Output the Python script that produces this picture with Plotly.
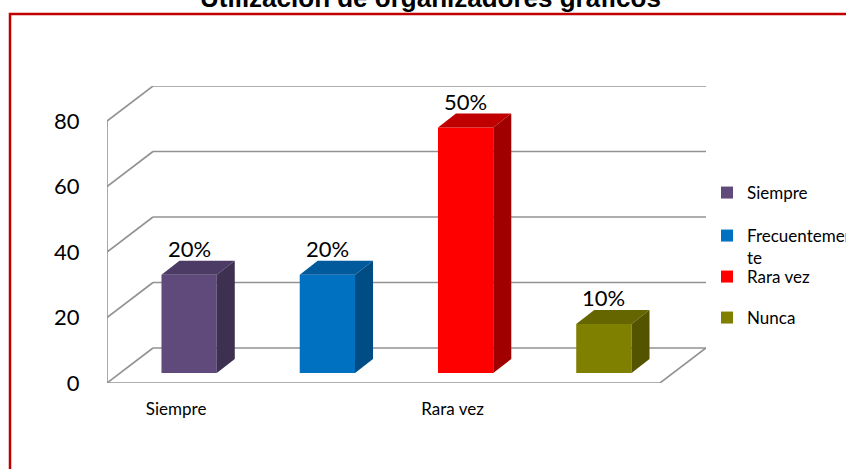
import plotly.graph_objects as go

# ---------------- data ----------------
categories = ["Siempre", "Frecuentemente", "Rara vez", "Nunca"]
values = [30, 30, 75, 15]
value_labels = ["20%", "20%", "50%", "10%"]
y_ticks = [0, 20, 40, 60, 80]
x_tick_labels = ["Siempre", "Rara vez"]
title_text = "Utilización de organizadores gráficos"

front_colors = ["#604A7B", "#0070C0", "#FF0000", "#808000"]
top_colors = ["#4C3B64", "#005A9C", "#C00000", "#666600"]
side_colors = ["#3E3051", "#004C84", "#A00000", "#545400"]

# ---------------- geometry (pixels) ----------------
W, H = 846, 469
ML, MT = 107, 86
MR = W - 706
MB = H - 383
PW, PH = W - ML - MR, H - MT - MB
FRONT_W = 553                      # width of the front plane in px
PX_CAT = FRONT_W / len(categories)
PX_Y = 262 / 80                     # px per value unit
XMIN = -0.5
XMAX = XMIN + PW / PX_CAT
YMAX = PH / PX_Y
DX, DY = 46 / PX_CAT, 35 / PX_Y     # depth of the 3D box
SHX, SHY = 13, 10                   # bar plane shift (px)
BAR_W = 0.4
BDX, BDY = 18 / PX_CAT, 14 / PX_Y   # bar depth
XR = XMIN + len(categories)         # right edge of front plane
GRID = "#929292"
GW = 1.6


def px2paper_x(px):
    return (px - ML) / PW


def px2paper_y(py):
    return (H - MB - py) / PH


fig = go.Figure()

legend_ids = ["legend", "legend2", "legend3", "legend4"]
for i, (cat, v) in enumerate(zip(categories, values)):
    name = cat if len(cat) <= 12 else cat[:12] + "<br>" + cat[12:]
    fig.add_trace(go.Bar(
        x=[i], y=[v], width=BAR_W, name=name,
        marker=dict(color=front_colors[i], line=dict(width=0)),
        xaxis="x2", yaxis="y2", legend=legend_ids[i],
        hoverinfo="skip",
    ))

shapes = []
for t in y_ticks:
    # side wall diagonal
    shapes.append(dict(type="line", xref="x", yref="y", x0=XMIN, y0=t, x1=XMIN + DX, y1=t + DY,
                       line=dict(color=GRID, width=GW), layer="below"))
    # back wall horizontal
    shapes.append(dict(type="line", xref="x", yref="y", x0=XMIN + DX, y0=t + DY, x1=XR + DX, y1=t + DY,
                       line=dict(color=GRID, width=GW), layer="below"))
# floor front and right edges
shapes.append(dict(type="line", xref="x", yref="y", x0=XMIN, y0=0, x1=XR, y1=0,
                   line=dict(color=GRID, width=GW), layer="below"))
shapes.append(dict(type="line", xref="x", yref="y", x0=XR, y0=0, x1=XR + DX, y1=DY,
                   line=dict(color=GRID, width=GW), layer="below"))
# left vertical axis line
shapes.append(dict(type="line", xref="x", yref="y", x0=XMIN, y0=0, x1=XMIN, y1=max(y_ticks),
                   line=dict(color=GRID, width=GW), layer="below"))

# 3D bar tops and sides
for i, v in enumerate(values):
    xl, xr = i - BAR_W / 2, i + BAR_W / 2
    top = f"M{xl},{v} L{xr},{v} L{xr + BDX},{v + BDY} L{xl + BDX},{v + BDY} Z"
    side = f"M{xr},0 L{xr + BDX},{BDY} L{xr + BDX},{v + BDY} L{xr},{v} Z"
    shapes.append(dict(type="path", xref="x2", yref="y2", path=top,
                       fillcolor=top_colors[i], line=dict(width=0), layer="above"))
    shapes.append(dict(type="path", xref="x2", yref="y2", path=side,
                       fillcolor=side_colors[i], line=dict(width=0), layer="above"))

# red chart border
shapes.append(dict(type="rect", xref="paper", yref="paper",
                   x0=px2paper_x(10), y0=px2paper_y(490), x1=px2paper_x(870), y1=px2paper_y(14),
                   line=dict(color="#C00000", width=2.5), fillcolor="rgba(0,0,0,0)", layer="above"))

annotations = []
for i, (v, lab) in enumerate(zip(values, value_labels)):
    annotations.append(dict(x=i, y=v, xref="x2", yref="y2", text=lab, showarrow=False,
                            yshift=26, font=dict(family="Lato", size=22, color="#000000")))
annotations.append(dict(x=px2paper_x(431), y=px2paper_y(-2), xref="paper", yref="paper",
                        text=f"<b>{title_text}</b>", showarrow=False, yanchor="middle",
                        font=dict(family="Liberation Sans, Arial", size=26, color="#000000")))

legend_y = [193, 235, 277, 318]
legend_cfg = {}
for i, lid in enumerate(legend_ids):
    multi = len(categories[i]) > 12
    legend_cfg[lid] = dict(
        x=px2paper_x(707), xanchor="left",
        y=px2paper_y(legend_y[i] - (17 if multi else 0)), yanchor="top" if multi else "middle",
        font=dict(family="Lato", size=17, color="#000000"),
        bgcolor="rgba(0,0,0,0)", borderwidth=0, valign="top",
    )

fig.update_layout(
    width=W, height=H,
    margin=dict(l=ML, r=MR, t=MT, b=MB, autoexpand=False),
    paper_bgcolor="white", plot_bgcolor="rgba(0,0,0,0)",
    barmode="overlay", showlegend=True,
    xaxis=dict(range=[XMIN, XMAX], domain=[0, 1], showgrid=False, zeroline=False, showline=False,
               tickvals=[categories.index(c) for c in x_tick_labels], ticktext=x_tick_labels,
               ticks="outside", ticklen=11, tickcolor="rgba(0,0,0,0)",
               tickfont=dict(family="Lato", size=17, color="#000000"), fixedrange=True),
    yaxis=dict(range=[0, YMAX], domain=[0, 1], showgrid=False, zeroline=False, showline=False,
               tickvals=y_ticks, ticks="outside", ticklen=22, tickcolor="rgba(0,0,0,0)",
               tickfont=dict(family="Lato", size=22, color="#000000"), fixedrange=True),
    xaxis2=dict(range=[XMIN, XMAX - SHX / PX_CAT], domain=[SHX / PW, 1], anchor="y2",
                visible=False, fixedrange=True),
    yaxis2=dict(range=[0, YMAX - SHY / PX_Y], domain=[SHY / PH, 1], anchor="x2",
                visible=False, fixedrange=True),
    shapes=shapes, annotations=annotations,
    **legend_cfg,
)

fig.write_html(
    "out.html",
    config={"displayModeBar": False},
    post_script="document.body.style.margin='0';document.body.style.overflow='hidden';",
)
